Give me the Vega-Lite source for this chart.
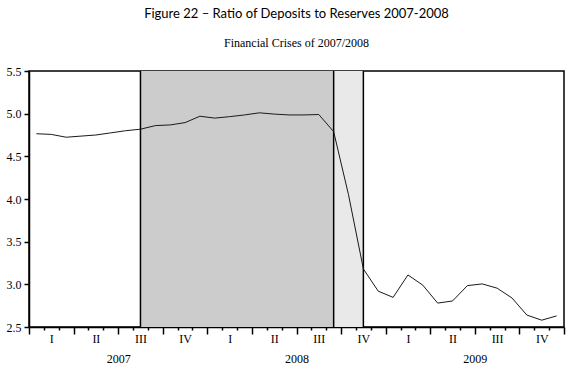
{
  "$schema": "https://vega.github.io/schema/vega-lite/v6.json",
  "width": 535,
  "height": 256,
  "padding": {"left": 6, "right": 11, "top": 8, "bottom": 4},
  "background": "#ffffff",
  "title": {
    "text": "Figure 22 – Ratio of Deposits to Reserves 2007-2008",
    "subtitle": "Financial Crises  of 2007/2008",
    "font": "Lato",
    "fontSize": 13,
    "fontWeight": "normal",
    "color": "#000000",
    "subtitleFont": "Liberation Serif",
    "subtitleFontSize": 12,
    "subtitleColor": "#000000",
    "subtitlePadding": 17,
    "offset": 16,
    "anchor": "middle"
  },
  "config": {
    "view": {"stroke": "#000000", "strokeWidth": 1.5},
    "axis": {"grid": false, "domainColor": "#000000", "tickColor": "#000000", "labelColor": "#000000", "labelFont": "Liberation Serif", "labelFontSize": 12}
  },
  "datasets": {
    "series": [
      {"m": 0.5, "v": 4.765}, {"m": 1.5, "v": 4.757}, {"m": 2.5, "v": 4.724}, {"m": 3.5, "v": 4.737},
      {"m": 4.5, "v": 4.75}, {"m": 5.5, "v": 4.775}, {"m": 6.5, "v": 4.80}, {"m": 7.5, "v": 4.818},
      {"m": 8.5, "v": 4.86}, {"m": 9.5, "v": 4.868}, {"m": 10.5, "v": 4.895}, {"m": 11.5, "v": 4.97},
      {"m": 12.5, "v": 4.948}, {"m": 13.5, "v": 4.965}, {"m": 14.5, "v": 4.985}, {"m": 15.5, "v": 5.01},
      {"m": 16.5, "v": 4.995}, {"m": 17.5, "v": 4.985}, {"m": 18.5, "v": 4.985}, {"m": 19.5, "v": 4.99},
      {"m": 20.5, "v": 4.79}, {"m": 21.5, "v": 4.05}, {"m": 22.5, "v": 3.18}, {"m": 23.5, "v": 2.92},
      {"m": 24.5, "v": 2.847}, {"m": 25.5, "v": 3.11}, {"m": 26.5, "v": 2.99}, {"m": 27.5, "v": 2.78},
      {"m": 28.5, "v": 2.805}, {"m": 29.5, "v": 2.985}, {"m": 30.5, "v": 3.005}, {"m": 31.5, "v": 2.955},
      {"m": 32.5, "v": 2.84}, {"m": 33.5, "v": 2.64}, {"m": 34.5, "v": 2.58}, {"m": 35.5, "v": 2.63}
    ],
    "regions": [
      {"start": 7.5, "end": 20.5, "phase": "crisis"},
      {"start": 20.5, "end": 22.5, "phase": "aftermath"}
    ],
    "bounds": [{"at": 7.5}, {"at": 20.5}, {"at": 22.5}]
  },
  "layer": [
    {
      "data": {"name": "regions"},
      "mark": {"type": "rect"},
      "encoding": {
        "x": {
          "field": "start", "type": "quantitative",
          "scale": {"domain": [0, 36], "nice": false, "zero": false},
          "axis": {
            "orient": "bottom", "values": [6, 18, 30],
            "labelExpr": "datum.value === 6 ? '2007' : (datum.value === 18 ? '2008' : '2009')",
            "ticks": false, "domain": false, "labelPadding": 26,
            "labelFlush": false, "labelOverlap": false, "title": null
          }
        },
        "x2": {"field": "end"},
        "color": {
          "field": "phase", "type": "nominal",
          "scale": {"domain": ["crisis", "aftermath"], "range": ["#cccccc", "#e9e9e9"]},
          "legend": null
        }
      }
    },
    {
      "data": {"name": "bounds"},
      "mark": {"type": "rule", "color": "#000000", "strokeWidth": 1.5},
      "encoding": {
        "x": {"field": "at", "type": "quantitative", "scale": {"domain": [0, 36], "nice": false, "zero": false}, "axis": null}
      }
    },
    {
      "data": {"name": "series"},
      "mark": {"type": "line", "color": "#1a1a1a", "strokeWidth": 1},
      "encoding": {
        "x": {
          "field": "m", "type": "quantitative",
          "scale": {"domain": [0, 36], "nice": false, "zero": false},
          "axis": {
            "orient": "bottom",
            "values": [0,1,2,3,4,5,6,7,8,9,10,11,12,13,14,15,16,17,18,19,20,21,22,23,24,25,26,27,28,29,30,31,32,33,34,35,36,1.5,4.5,7.5,10.5,13.5,16.5,19.5,22.5,25.5,28.5,31.5,34.5],
            "labelExpr": "(datum.value - 1.5) % 3 === 0 ? ['I','II','III','IV'][((datum.value - 1.5) / 3) % 4] : ''",
            "tickSize": {"condition": {"test": "datum.value % 3 === 0", "value": 7}, "value": 3},
            "tickOpacity": {"condition": {"test": "datum.value % 1 !== 0", "value": 0}, "value": 1},
            "tickWidth": 1.5,
            "domainWidth": 1.5,
            "labelPadding": 3,
            "labelFlush": false, "labelOverlap": false, "title": null
          }
        },
        "y": {
          "field": "v", "type": "quantitative",
          "scale": {"domain": [2.5, 5.5], "nice": false, "zero": false},
          "axis": {
            "values": [2.5, 3, 3.5, 4, 4.5, 5, 5.5], "format": ".1f",
            "tickSize": 5, "tickWidth": 1.5, "domainWidth": 1.5, "labelPadding": 3, "title": null
          }
        }
      }
    }
  ],
  "resolve": {"scale": {"x": "independent"}, "axis": {"x": "independent"}}
}
